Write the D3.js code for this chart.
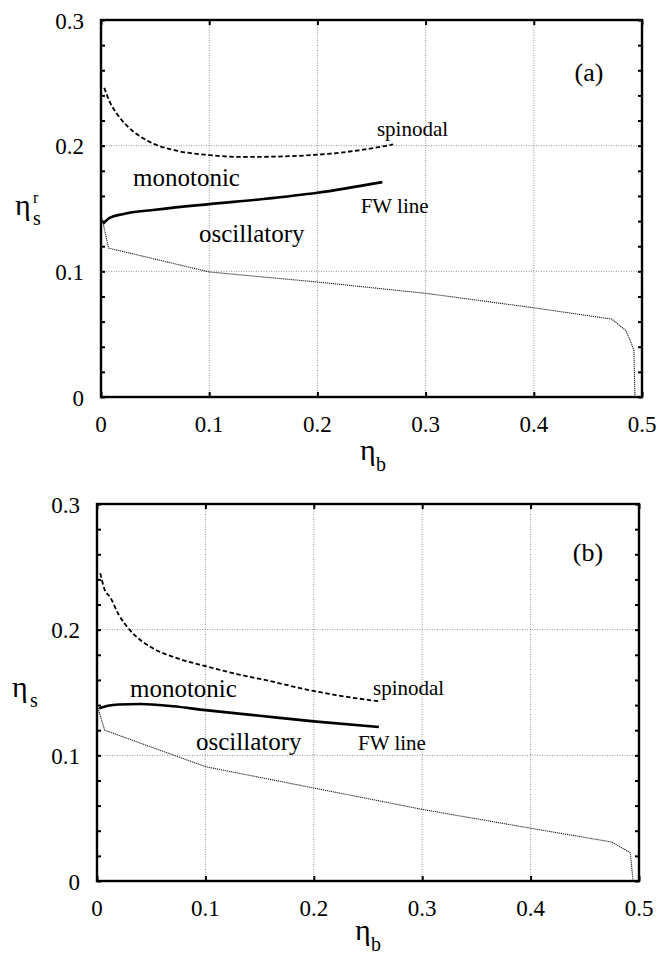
<!DOCTYPE html>
<html>
<head>
<meta charset="utf-8">
<script src="https://cdn.jsdelivr.net/npm/d3@7"></script>
</head>
<body style="margin:0">
<svg id="fig" width="659" height="956"></svg>
<script>
// Phase diagram data: packing fractions eta_b (x) vs eta_s (y)
const xTicks = [0, 0.1, 0.2, 0.3, 0.4, 0.5];
const yTicks = [0, 0.1, 0.2, 0.3];
const yMinor = d3.range(0, 0.3001, 0.02);
const xTickLabels = ["0", "0.1", "0.2", "0.3", "0.4", "0.5"];
const yTickLabels = ["0", "0.1", "0.2", "0.3"];

// panel (a): reduced eta_s^r
const spinodalA = [[0.003,0.246],[0.008,0.235],[0.015,0.225],[0.025,0.215],[0.045,0.203],[0.07,0.196],
  [0.1,0.1925],[0.13,0.191],[0.17,0.1915],[0.21,0.1935],[0.24,0.1965],[0.27,0.201]];
const fwLineA = [[0.002,0.138],[0.008,0.1425],[0.02,0.1455],[0.05,0.149],[0.1,0.1535],[0.15,0.1575],
  [0.2,0.1625],[0.26,0.171]];
const boundaryA = [[0.001,0.142],[0.007,0.1185],[0.1,0.0995],[0.2,0.0915],[0.3,0.0825],[0.4,0.071],
  [0.472,0.062],[0.485,0.053],[0.487,0.049],[0.49,0.043],[0.4925,0.037],[0.4935,0]];

// panel (b): eta_s
const spinodalB = [[0.003,0.245],[0.007,0.232],[0.012,0.226],[0.02,0.212],[0.03,0.2],[0.05,0.186],
  [0.075,0.177],[0.1,0.171],[0.13,0.1645],[0.16,0.159],[0.19,0.153],[0.22,0.148],[0.26,0.143]];
const fwLineB = [[0.002,0.1375],[0.01,0.1395],[0.02,0.1405],[0.04,0.1408],[0.07,0.139],[0.1,0.136],
  [0.15,0.1315],[0.2,0.127],[0.26,0.1225]];
const boundaryB = [[0.001,0.1376],[0.007,0.12],[0.1,0.091],[0.2,0.074],[0.3,0.057],[0.4,0.042],
  [0.475,0.031],[0.492,0.0225],[0.4945,0]];

const FONT = '"Liberation Serif"';

const panels = [
  { box: {l:101, r:642, t:20, b:397}, tag: "(a)", tagPos: [589, 81],
    xTitle: {x:360, y:460}, yTitle: {x:15, y:215, sub:"s", sup:"r"},
    spinodal: spinodalA, fw: fwLineA, boundary: boundaryA,
    labels: [
      {text:"monotonic", x:0.0296, y:0.168, size:25},
      {text:"oscillatory", x:0.0906, y:0.1235, size:25},
      {text:"spinodal", x:0.255, y:0.2075, size:21},
      {text:"FW line", x:0.240, y:0.1465, size:21}
    ]},
  { box: {l:97, r:639, t:504, b:881}, tag: "(b)", tagPos: [588, 561],
    xTitle: {x:355, y:940}, yTitle: {x:12, y:697, sub:"s", sup:null},
    spinodal: spinodalB, fw: fwLineB, boundary: boundaryB,
    labels: [
      {text:"monotonic", x:0.0304, y:0.1465, size:25},
      {text:"oscillatory", x:0.0913, y:0.104, size:25},
      {text:"spinodal", x:0.2546, y:0.148, size:21},
      {text:"FW line", x:0.2408, y:0.104, size:21}
    ]}
];

const svg = d3.select("#fig");

function txt(sel) {
  return sel.append("text").style("font-family", FONT);
}

panels.forEach(p => {
  const {l, r, t, b} = p.box;
  const x = d3.scaleLinear().domain([0, 0.5]).range([l, r]);
  const y = d3.scaleLinear().domain([0, 0.3]).range([b, t]);
  const g = svg.append("g");

  // dotted grid
  g.append("g").selectAll("line").data(xTicks.slice(1, -1)).join("line")
    .attr("x1", d => x(d)).attr("x2", d => x(d)).attr("y1", t).attr("y2", b)
    .attr("stroke", "#777").attr("stroke-width", 0.8).attr("stroke-dasharray", "1,1.5");
  g.append("g").selectAll("line").data(yTicks.slice(1, -1)).join("line")
    .attr("y1", d => y(d)).attr("y2", d => y(d)).attr("x1", l).attr("x2", r)
    .attr("stroke", "#777").attr("stroke-width", 0.8).attr("stroke-dasharray", "1,1.5");

  // inward ticks via d3 axes (labels drawn separately)
  const axB = d3.axisBottom(x).tickValues(xTicks).tickSize(-5).tickFormat("");
  const axT = d3.axisTop(x).tickValues(xTicks).tickSize(-5).tickFormat("");
  const axL = d3.axisLeft(y).tickValues(yMinor).tickSize(-4).tickFormat("");
  const axR = d3.axisRight(y).tickValues(yMinor).tickSize(-4).tickFormat("");
  [[axB, `translate(0,${b})`], [axT, `translate(0,${t})`], [axL, `translate(${l},0)`], [axR, `translate(${r},0)`]]
    .forEach(([ax, tr]) => {
      const a = g.append("g").attr("transform", tr).call(ax);
      a.select(".domain").remove();
      a.selectAll("text").remove();
      a.selectAll("line").attr("stroke", "#000").attr("stroke-width", 2);
    });

  // frame
  g.append("rect").attr("x", l).attr("y", t).attr("width", r - l).attr("height", b - t)
    .attr("fill", "none").attr("stroke", "#000").attr("stroke-width", 2.4);

  // tick labels
  g.append("g").selectAll("text").data(xTicks).join("text")
    .style("font-family", FONT)
    .attr("x", d => x(d)).attr("y", b + 35).attr("text-anchor", "middle")
    .attr("font-size", 23).text((d, i) => xTickLabels[i]);
  g.append("g").selectAll("text").data(yTicks).join("text")
    .style("font-family", FONT)
    .attr("x", l - 17).attr("y", d => y(d) + 8.5).attr("text-anchor", "end")
    .attr("font-size", 23).text((d, i) => yTickLabels[i]);

  const line = d3.line().x(d => x(d[0])).y(d => y(d[1]));

  // curves
  g.append("path").datum(p.boundary).attr("d", line.curve(d3.curveLinear))
    .attr("fill", "none").attr("stroke", "#222").attr("stroke-width", 1.1).attr("stroke-dasharray", "1.2,0.8");
  g.append("path").datum(p.spinodal).attr("d", line.curve(d3.curveMonotoneX))
    .attr("fill", "none").attr("stroke", "#000").attr("stroke-width", 1.8).attr("stroke-dasharray", "4.5,2.5");
  g.append("path").datum(p.fw).attr("d", line.curve(d3.curveMonotoneX))
    .attr("fill", "none").attr("stroke", "#000").attr("stroke-width", 2.6);

  // region / curve labels
  g.append("g").selectAll("text").data(p.labels).join("text")
    .style("font-family", FONT)
    .attr("x", d => x(d.x)).attr("y", d => y(d.y)).attr("font-size", d => d.size).text(d => d.text);

  // panel tag
  txt(g).attr("x", p.tagPos[0]).attr("y", p.tagPos[1]).attr("text-anchor", "middle")
    .attr("font-size", 26).text(p.tag);

  // x title: eta_b
  txt(g).attr("x", p.xTitle.x).attr("y", p.xTitle.y).attr("font-size", 30).text("η");
  txt(g).attr("x", p.xTitle.x + 16).attr("y", p.xTitle.y + 11).attr("font-size", 20).text("b");

  // y title: eta_s (with optional superscript r)
  const yt = p.yTitle;
  txt(g).attr("x", yt.x).attr("y", yt.y).attr("font-size", 30).text("η");
  if (yt.sup) {
    txt(g).attr("x", yt.x + 18).attr("y", yt.y - 12).attr("font-size", 16).text(yt.sup);
  }
  txt(g).attr("x", yt.x + 18).attr("y", yt.y + 10).attr("font-size", 20).text(yt.sub);
});
</script>
</body>
</html>
